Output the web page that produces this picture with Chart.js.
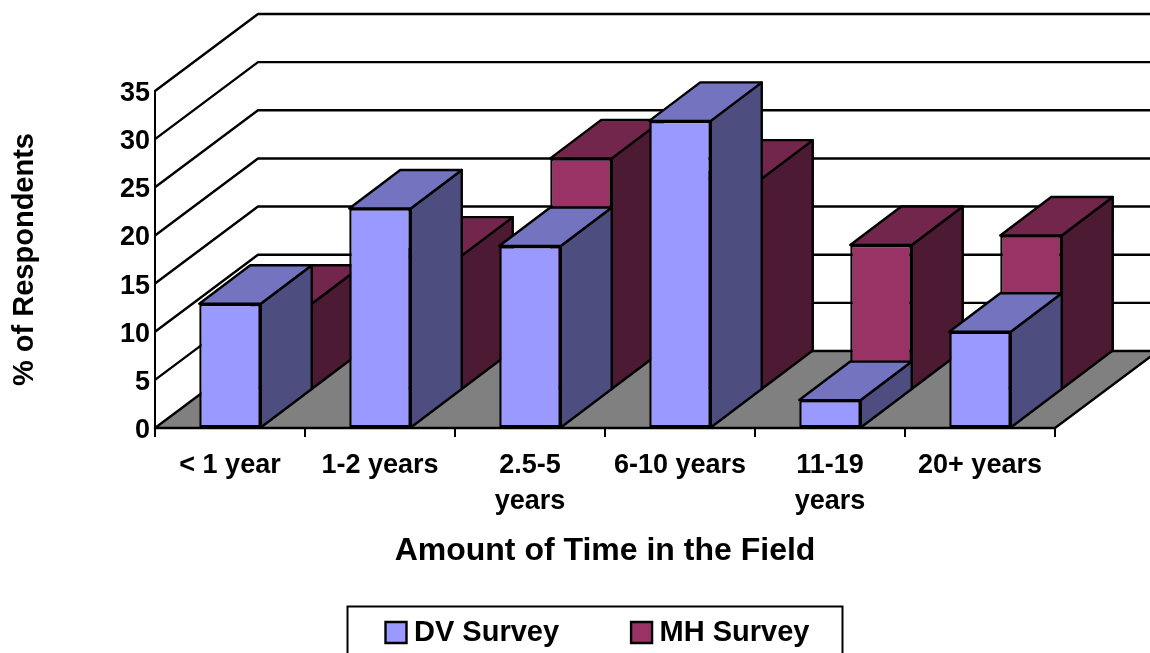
<!DOCTYPE html>
<html>
<head>
<meta charset="utf-8">
<title>Amount of Time in the Field</title>
<script src="https://cdn.jsdelivr.net/npm/chart.js@4/dist/chart.umd.min.js"></script>
<style>
  html, body { margin: 0; background: #fff; }
  canvas { display: block; }
</style>
</head>
<body>
<canvas id="chart" width="1150" height="653"></canvas>
<script>
const categories = ['< 1 year', '1-2 years', ['2.5-5', 'years'], '6-10 years', ['11-19', 'years'], '20+ years'];
const dvValues = [12.9, 22.8, 18.9, 31.9, 2.9, 10];
const mhValues = [8.9, 13.9, 24, 21.9, 15, 16];

const fontFamily = '"Liberation Sans", Arial, sans-serif';

// Fake 3D: how far the back wall sits from the front plane
const wallDx = 103;
const wallDy = 77;
const barDx = 51;
const barDy = wallDy / 2;
const legendPadding = 79;
const lineW = 2.4;

const sideColors = { 0: { top: '#7373bf', side: '#4d4d80' }, 1: { top: '#73264c', side: '#4d1a33' } };

function poly(ctx, pts, fill) {
  ctx.beginPath();
  pts.forEach((p, i) => (i ? ctx.lineTo(p[0], p[1]) : ctx.moveTo(p[0], p[1])));
  ctx.closePath();
  if (fill) { ctx.fillStyle = fill; ctx.fill(); }
  ctx.stroke();
}

const walls3d = {
  id: 'walls3d',
  beforeLayout(chart) {
    // legend item gap comes from labels.padding, keep the box itself short
    const lg = chart.legend;
    if (!lg.shortFit) {
      const fit = lg.fit;
      lg.fit = function () { fit.call(this); this.height = 47; };
      lg.shortFit = true;
    }
  },
  afterLayout(chart) {
    chart.legend.left = 392.5 - legendPadding;
    chart.legend.top = 618 - legendPadding;
  },
  afterUpdate(chart) {
    // y tick labels sit a bit under their tick in the original
    chart.scales.y.getLabelItems().forEach(item => { item.textOffset += 2.5; });
  },
  beforeDatasetsDraw(chart) {
    const { ctx, scales: { x, y } } = chart;
    const y0 = y.getPixelForValue(0);
    ctx.save();
    ctx.strokeStyle = '#000';
    ctx.lineWidth = lineW;
    ctx.lineJoin = 'round';
    poly(ctx, [[x.left, y0], [x.right, y0], [x.right + wallDx, y0 - wallDy], [x.left + wallDx, y0 - wallDy]], '#808080');
    y.ticks.forEach(t => {
      if (t.value === 0) return;
      const py = y.getPixelForValue(t.value);
      ctx.beginPath();
      ctx.moveTo(x.left, py);
      ctx.lineTo(x.left + wallDx, py - wallDy);
      ctx.lineTo(x.right + wallDx, py - wallDy);
      ctx.stroke();
    });
    ctx.restore();
  },
  beforeDatasetDraw(chart, args) {
    const { ctx } = chart;
    const colors = sideColors[args.index];
    ctx.save();
    // MH row stands half a depth further back
    if (args.index === 1) ctx.translate(barDx, -barDy);
    ctx.strokeStyle = '#000';
    ctx.lineWidth = lineW;
    ctx.lineJoin = 'round';
    args.meta.data.forEach(el => {
      const left = el.x - el.width / 2;
      const right = el.x + el.width / 2;
      poly(ctx, [[right, el.base], [right + barDx, el.base - barDy], [right + barDx, el.y - barDy], [right, el.y]], colors.side);
      poly(ctx, [[left, el.y], [right, el.y], [right + barDx, el.y - barDy], [left + barDx, el.y - barDy]], colors.top);
    });
  },
  afterDatasetDraw(chart) {
    chart.ctx.restore();
  },
  afterDraw(chart) {
    const { ctx } = chart;
    ctx.save();
    ctx.strokeStyle = '#000';
    ctx.lineWidth = 2;
    ctx.strokeRect(347.5, 606.5, 495, 60);
    ctx.restore();
  }
};

new Chart(document.getElementById('chart').getContext('2d'), {
  type: 'bar',
  data: {
    labels: categories,
    datasets: [
      { label: 'DV Survey', data: dvValues, backgroundColor: '#9999ff', borderColor: '#000', borderWidth: lineW, borderSkipped: false, clip: false },
      { label: 'MH Survey', data: mhValues, backgroundColor: '#993366', borderColor: '#000', borderWidth: lineW, borderSkipped: false, clip: false }
    ]
  },
  options: {
    responsive: false,
    animation: false,
    layout: { padding: { top: 91, right: 95, left: 0, bottom: 0 } },
    datasets: { bar: { grouped: false, barPercentage: 0.41, categoryPercentage: 1 } },
    scales: {
      x: {
        afterFit: s => { s.height = 178; },
        grid: { drawOnChartArea: false, tickLength: 9, color: '#000', lineWidth: 2 },
        border: { color: '#000', width: 2 },
        ticks: {
          autoSkip: false, maxRotation: 0, color: '#000', padding: 11,
          font: { family: fontFamily, size: 27, weight: 'bold', lineHeight: 1.33 }
        },
        title: {
          display: true, text: 'Amount of Time in the Field', color: '#000',
          font: { family: fontFamily, size: 32, weight: 'bold' }, padding: { top: 0, bottom: 36 }
        }
      },
      y: {
        min: 0, max: 35,
        afterFit: s => { s.width = 155; },
        grid: { drawOnChartArea: false, drawTicks: false },
        border: { color: '#000', width: 2 },
        ticks: {
          stepSize: 5, color: '#000', padding: 5,
          font: { family: fontFamily, size: 27, weight: 'bold' }
        },
        title: {
          display: true, text: '% of Respondents', color: '#000',
          font: { family: fontFamily, size: 29, weight: 'bold' }, padding: { top: 8, bottom: 0 }
        }
      }
    },
    plugins: {
      tooltip: { enabled: false },
      legend: {
        position: 'bottom',
        align: 'start',
        labels: {
          color: '#000', usePointStyle: true, pointStyle: 'rect', boxWidth: 7, boxHeight: 21,
          padding: legendPadding,
          font: { family: fontFamily, size: 29, weight: 'bold' }
        }
      }
    }
  },
  plugins: [walls3d]
});
</script>
</body>
</html>
